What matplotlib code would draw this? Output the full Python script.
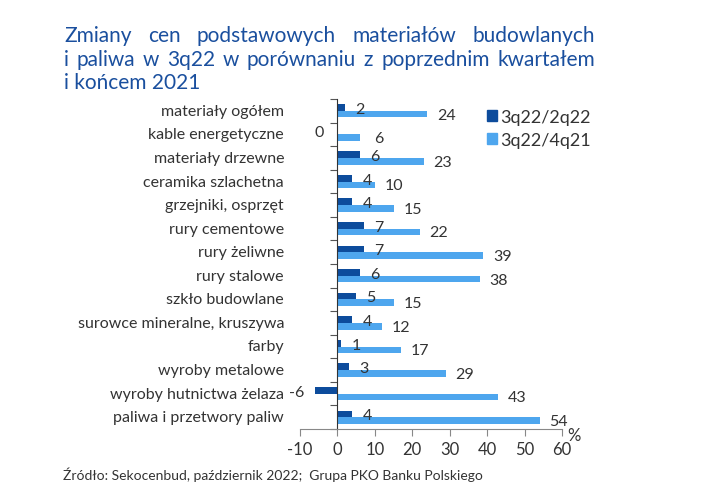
import matplotlib
matplotlib.use("Agg")
import matplotlib.pyplot as plt
from matplotlib.patches import Patch
import numpy as np

categories = ["materiały ogółem", "kable energetyczne", "materiały drzewne",
              "ceramika szlachetna", "grzejniki, osprzęt", "rury cementowe",
              "rury żeliwne", "rury stalowe", "szkło budowlane",
              "surowce mineralne, kruszywa", "farby", "wyroby metalowe",
              "wyroby hutnictwa żelaza", "paliwa i przetwory paliw"]
q_q = [2, 0, 6, 4, 4, 7, 7, 6, 5, 4, 1, 3, -6, 4]          # 3q22/2q22
q_4q21 = [24, 6, 23, 10, 15, 22, 39, 38, 15, 12, 17, 29, 43, 54]  # 3q22/4q21
series_names = ["3q22/2q22", "3q22/4q21"]
xticks = [-10, 0, 10, 20, 30, 40, 50, 60]

title_lines = ["Zmiany cen podstawowych materiałów budowlanych",
               "i paliwa w 3q22 w porównaniu z poprzednim kwartałem",
               "i końcem 2021"]
source = "Źródło: Sekocenbud, październik 2022;  Grupa PKO Banku Polskiego"

DARK = "#0d4c9c"
LIGHT = "#4ea6ee"
TITLE_C = "#1a4f9e"
TXT = "#333333"
FONT = ["Lato", "DejaVu Sans"]
plt.rcParams['font.family'] = FONT

W, H = 718, 502
fig = plt.figure(figsize=(W / 100, H / 100), dpi=100)
ax = fig.add_axes([300 / W, (H - 430) / H, 262 / W, 330 / H])

n = len(categories)
y = np.arange(n)
bh = 0.28
ax.barh(y - bh / 2, q_q, height=bh, color=DARK, label=series_names[0])
ax.barh(y + bh / 2, q_4q21, height=bh, color=LIGHT, label=series_names[1])

ax.set_xlim(-10, 60)
ax.set_ylim(n - 0.5, -0.5)

for i, v in enumerate(q_q):
    off = 15 if v > 0 else -18
    ax.annotate(str(v), xy=(v, i - 0.08), xytext=(off, 0), textcoords="offset pixels",
                ha="center", va="center", fontsize=11.5, color=TXT)
for i, v in enumerate(q_4q21):
    ax.annotate(str(v), xy=(v, i + 0.16), xytext=(19, 0), textcoords="offset pixels",
                ha="center", va="center", fontsize=11.5, color=TXT)

# spines
for s in ["top", "right"]:
    ax.spines[s].set_visible(False)
ax.spines["left"].set_position(("data", 0))
ax.spines["left"].set_color("#333333")
ax.spines["bottom"].set_color("#888888")
ax.set_yticks(np.arange(-0.5, n, 1.0))
ax.set_yticklabels([])
ax.tick_params(axis="y", direction="out", length=5, color="#555555")
ax.set_xticks(xticks)
ax.set_xticklabels([str(t) for t in xticks])
ax.tick_params(axis="x", direction="out", length=5, color="#888888",
               labelsize=12, labelcolor=TXT, pad=4)

for i, c in enumerate(categories):
    ax.text(-16 / 262, i, c, transform=ax.get_yaxis_transform(), ha="right",
            va="center", fontsize=11.5, color=TXT)

fig.text(567 / W, 1 - 436 / H, "%", fontsize=12, color=TXT, ha="left", va="center")

handles = [Patch(color=DARK), Patch(color=LIGHT)]
fig.legend(handles, series_names, loc="upper left", bbox_to_anchor=(474 / W, 1 - 97 / H),
           frameon=False, fontsize=13, handlelength=0.55, handleheight=0.55,
           handletextpad=0.2, labelspacing=0.4, labelcolor=TXT, borderpad=0.2)

# justified title
renderer = fig.canvas.get_renderer()
x0, x1 = 64, 595
ys = [36, 60, 83]
TFS = 15
for li, line in enumerate(title_lines):
    words = line.split(" ")
    yy = 1 - ys[li] / H
    if li == len(title_lines) - 1:
        fig.text(x0 / W, yy, line, fontsize=TFS, color=TITLE_C, ha="left", va="center")
        continue
    ts = [fig.text(0, yy, w, fontsize=TFS, color=TITLE_C, ha="left", va="center") for w in words]
    widths = [t.get_window_extent(renderer).width for t in ts]
    gap = (x1 - x0 - sum(widths)) / (len(words) - 1)
    xp = x0
    for t, wd in zip(ts, widths):
        t.set_x(xp / W)
        xp += wd + gap

fig.text(63 / W, 1 - 475 / H, source, fontsize=10, color=TXT, ha="left", va="center")

fig.savefig("out.png", dpi=100)
